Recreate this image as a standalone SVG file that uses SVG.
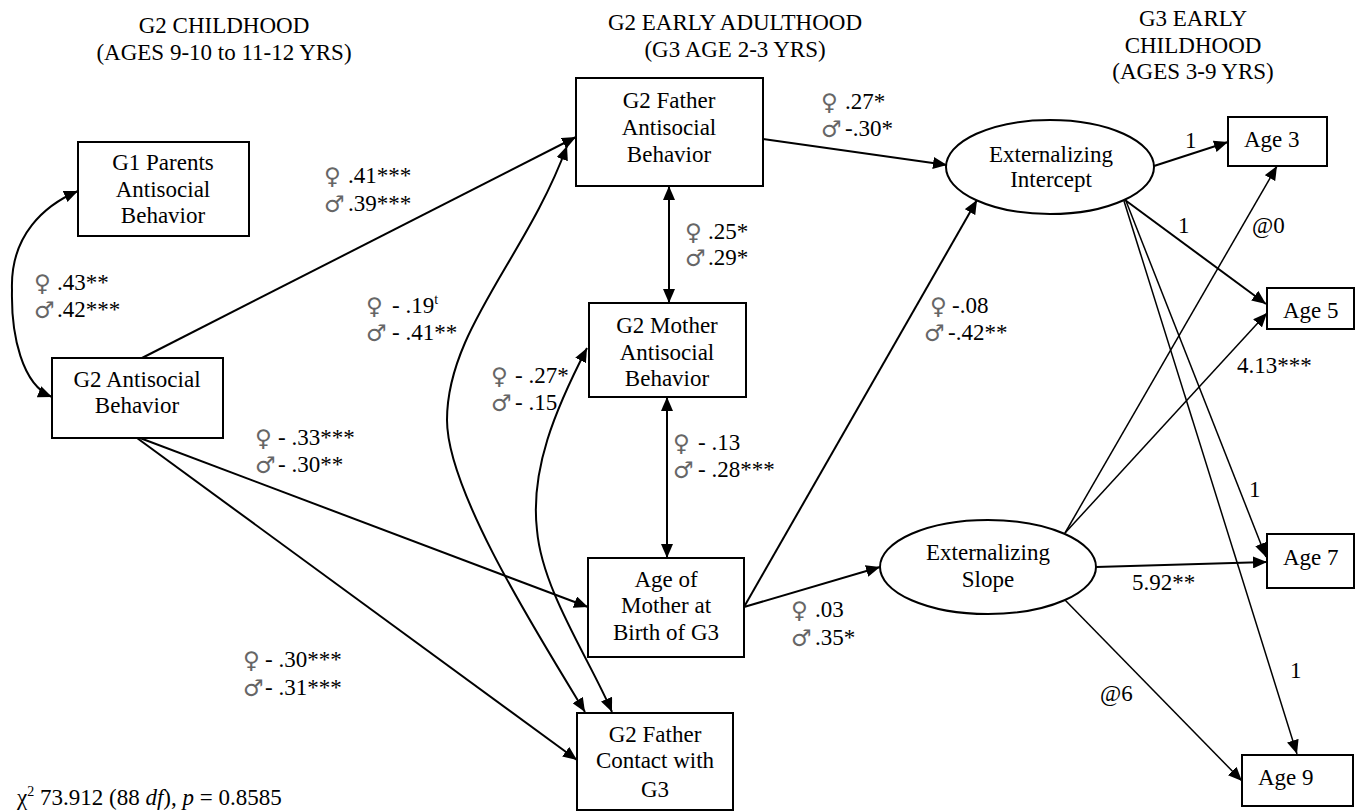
<svg xmlns="http://www.w3.org/2000/svg" width="1362" height="812" viewBox="0 0 1362 812">
<defs>
<marker id="arr" markerWidth="15" markerHeight="12" refX="14" refY="6" orient="auto-start-reverse" markerUnits="userSpaceOnUse"><path d="M0,0 L14,6 L0,12 z" fill="#000"/></marker>
<style>
text{font-family:'Liberation Serif','Times New Roman',serif;font-size:23px;fill:#000}
.c{text-anchor:middle}
text.sym{font-family:'DejaVu Sans',sans-serif;font-size:23px;fill:#666}
.box{fill:#fff;stroke:#000;stroke-width:2}
.ln{fill:none;stroke:#000;stroke-width:2;marker-end:url(#arr)}
.bi{marker-start:url(#arr)}
.th{stroke-width:1.5}
</style>
</defs>
<rect width="1362" height="812" fill="#fff"/>

<g id="headers">
<text class="c" x="224" y="33">G2 CHILDHOOD</text>
<text class="c" x="224" y="60">(AGES 9-10 to 11-12 YRS)</text>
<text class="c" x="735" y="30">G2 EARLY ADULTHOOD</text>
<text class="c" x="735" y="57">(G3 AGE 2-3 YRS)</text>
<text class="c" x="1193" y="26">G3 EARLY</text>
<text class="c" x="1193" y="53">CHILDHOOD</text>
<text class="c" x="1193" y="79">(AGES 3-9 YRS)</text>
</g>

<g id="connectors">
<path class="ln bi" d="M78,191 C45,205 10,235 12,290 C11,335 22,385 52,397"/>
<path class="ln" d="M142,358 L576,137"/>
<path class="ln" d="M140,438 L588,607"/>
<path class="ln" d="M137,438 L577,760"/>
<path class="ln bi" d="M567,146 C527,256 447,330 447,420 C447,490 535,630 585,712"/>
<path class="ln bi" d="M587,348 C555,410 530,470 537,530 C542,590 590,660 612,712"/>
<path class="ln bi" d="M669,186 L669,303"/>
<path class="ln bi" d="M667,397 L667,558"/>
<path class="ln" d="M763,139 L947,165"/>
<path class="ln" d="M744,607 L977,200"/>
<path class="ln" d="M744,607 L880,567"/>
<path class="ln" d="M1154,166 L1228,142"/>
<path class="ln" d="M1125,200 L1266,304"/>
<path class="ln th" d="M1126,201 L1266,557"/>
<path class="ln th" d="M1124,201 L1297,754"/>
<path class="ln th" d="M1065,533 L1277,166"/>
<path class="ln th" d="M1065,533 L1267,313"/>
<path class="ln" d="M1096,567 L1267,562"/>
<path class="ln th" d="M1065,600 L1242,781"/>
</g>

<g id="g1">
<rect class="box" x="78" y="142" width="171" height="94"/>
<text class="c" x="163" y="170">G1 Parents</text>
<text class="c" x="163" y="197">Antisocial</text>
<text class="c" x="163" y="223">Behavior</text>
</g>
<g id="g2">
<rect class="box" x="52" y="358" width="171" height="80"/>
<text class="c" x="137" y="387">G2 Antisocial</text>
<text class="c" x="137" y="413">Behavior</text>
</g>
<g id="father">
<rect class="box" x="576" y="78" width="187" height="108"/>
<text class="c" x="669" y="108">G2 Father</text>
<text class="c" x="669" y="135">Antisocial</text>
<text class="c" x="669" y="162">Behavior</text>
</g>
<g id="mother">
<rect class="box" x="589" y="303" width="157" height="94"/>
<text class="c" x="667" y="333">G2 Mother</text>
<text class="c" x="667" y="360">Antisocial</text>
<text class="c" x="667" y="386">Behavior</text>
</g>
<g id="agemother">
<rect class="box" x="588" y="558" width="156" height="99"/>
<text class="c" x="666" y="587">Age of</text>
<text class="c" x="666" y="613">Mother at</text>
<text class="c" x="666" y="640">Birth of G3</text>
</g>
<g id="contact">
<rect class="box" x="577" y="713" width="156" height="97"/>
<text class="c" x="655" y="742">G2 Father</text>
<text class="c" x="655" y="768">Contact with</text>
<text class="c" x="655" y="797">G3</text>
</g>
<g id="intercept">
<ellipse class="box" cx="1050" cy="167" rx="104" ry="47"/>
<text class="c" x="1051" y="162">Externalizing</text>
<text class="c" x="1051" y="187">Intercept</text>
</g>
<g id="slope">
<ellipse class="box" cx="988" cy="567" rx="108" ry="47"/>
<text class="c" x="988" y="560">Externalizing</text>
<text class="c" x="988" y="587">Slope</text>
</g>
<g id="age3">
<rect class="box" x="1228" y="117" width="99" height="49"/>
<text x="1244" y="147">Age 3</text>
</g>
<g id="age5">
<rect class="box" x="1267" y="288" width="87" height="41"/>
<text x="1283" y="318">Age 5</text>
</g>
<g id="age7">
<rect class="box" x="1267" y="534" width="87" height="54"/>
<text x="1283" y="565">Age 7</text>
</g>
<g id="age9">
<rect class="box" x="1242" y="755" width="111" height="51"/>
<text x="1258" y="785">Age 9</text>
</g>

<g id="labels">
<text class="sym" x="34" y="291">♀</text><text x="57" y="290">.43**</text>
<text class="sym" x="34" y="318">♂</text><text x="57" y="317">.42***</text>
<text class="sym" x="324" y="184">♀</text><text x="348" y="183">.41***</text>
<text class="sym" x="324" y="212">♂</text><text x="348" y="211">.39***</text>
<text class="sym" x="366" y="314">♀</text><text x="392" y="313">- .19<tspan dy="-9" font-size="14">t</tspan></text>
<text class="sym" x="366" y="341">♂</text><text x="392" y="340">- .41**</text>
<text class="sym" x="255" y="446">♀</text><text x="278" y="445">- .33***</text>
<text class="sym" x="255" y="473">♂</text><text x="278" y="472">- .30**</text>
<text class="sym" x="243" y="668">♀</text><text x="265" y="667">- .30***</text>
<text class="sym" x="243" y="696">♂</text><text x="265" y="695">- .31***</text>
<text class="sym" x="821" y="110">♀</text><text x="845" y="109">.27*</text>
<text class="sym" x="821" y="137">♂</text><text x="845" y="136">-.30*</text>
<text class="sym" x="685" y="240">♀</text><text x="708" y="239">.25*</text>
<text class="sym" x="685" y="266">♂</text><text x="708" y="265">.29*</text>
<text class="sym" x="491" y="384">♀</text><text x="515" y="383">- .27*</text>
<text class="sym" x="491" y="411">♂</text><text x="515" y="410">- .15</text>
<text class="sym" x="673" y="451">♀</text><text x="698" y="450">- .13</text>
<text class="sym" x="673" y="478">♂</text><text x="698" y="477">- .28***</text>
<text class="sym" x="930" y="314">♀</text><text x="952" y="313">-.08</text>
<text class="sym" x="924" y="341">♂</text><text x="948" y="340">-.42**</text>
<text class="sym" x="791" y="618">♀</text><text x="815" y="617">.03</text>
<text class="sym" x="791" y="646">♂</text><text x="815" y="645">.35*</text>
<text x="1185" y="148">1</text>
<text x="1178" y="233">1</text>
<text x="1252" y="233">@0</text>
<text x="1237" y="373">4.13***</text>
<text x="1249" y="497">1</text>
<text x="1132" y="590">5.92**</text>
<text x="1100" y="701">@6</text>
<text x="1290" y="678">1</text>
<text x="17" y="805">χ<tspan dy="-9" font-size="14">2</tspan><tspan dy="9"> 73.912 (88 </tspan><tspan font-style="italic">df</tspan>), <tspan font-style="italic">p</tspan> = 0.8585</text>
</g>
</svg>
